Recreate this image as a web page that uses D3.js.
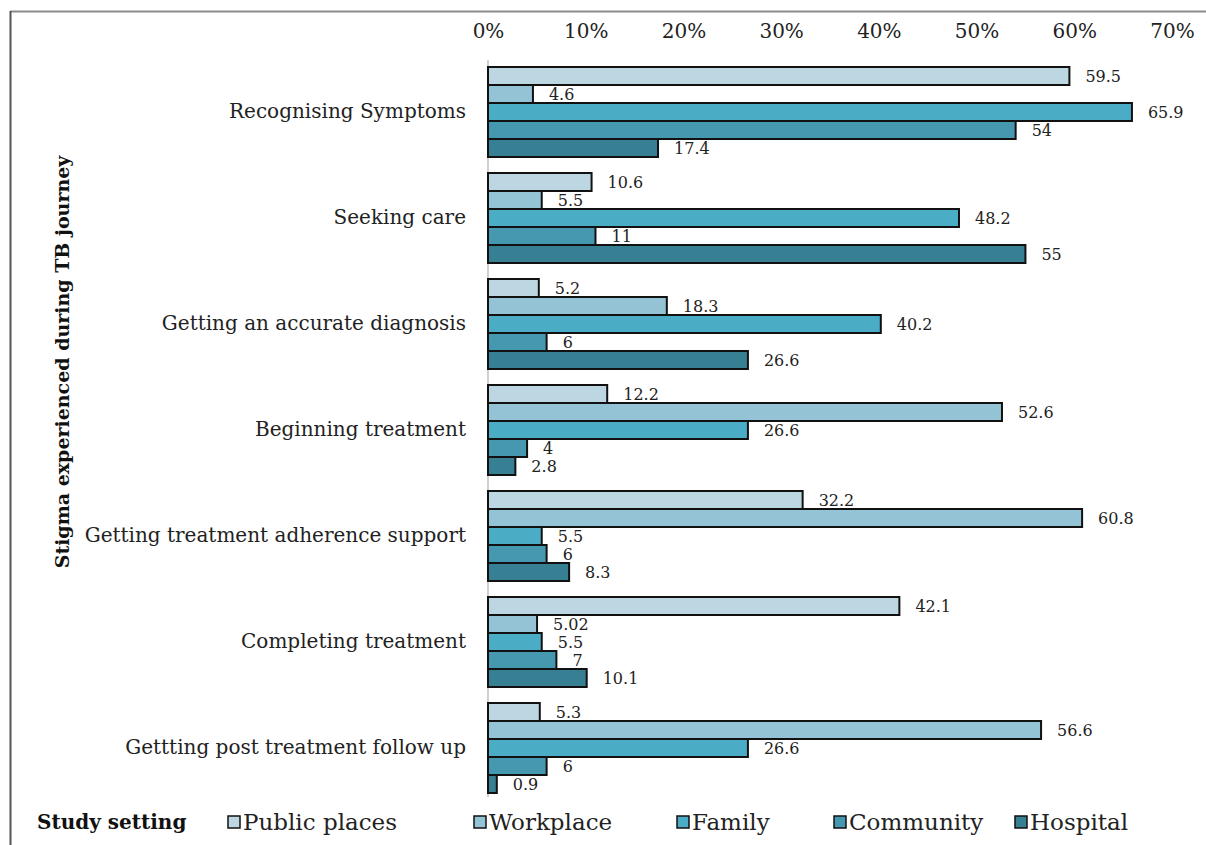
<!DOCTYPE html>
<html>
<head>
<meta charset="utf-8">
<script src="https://cdn.jsdelivr.net/npm/d3@7"></script>
<style>
  html, body { margin: 0; padding: 0; background: #fff; }
  svg { display: block; }
</style>
</head>
<body>
<svg id="chart" width="1206" height="845"></svg>
<script>
// Stages of the TB journey (top to bottom)
const stages = [
  "Recognising Symptoms",
  "Seeking care",
  "Getting an accurate diagnosis",
  "Beginning treatment ",
  "Getting treatment adherence support",
  "Completing treatment",
  "Gettting post treatment follow up"
];

// Study settings (series)
const settings = ["Public places", "Workplace", "Family", "Community", "Hospital"];
const colors = ["#BDD7E2", "#93C3D5", "#4BACC6", "#4598AF", "#377F93"];

// Percent of respondents reporting stigma, per setting, one value per stage
const publicPlaces = [59.5, 10.6, 5.2, 12.2, 32.2, 42.1, 5.3];
const workplace    = [4.6, 5.5, 18.3, 52.6, 60.8, 5.02, 56.6];
const family       = [65.9, 48.2, 40.2, 26.6, 5.5, 5.5, 26.6];
const community    = [54, 11, 6, 4, 6, 7, 6];
const hospital     = [17.4, 55, 26.6, 2.8, 8.3, 10.1, 0.9];

const tickValues = [0, 10, 20, 30, 40, 50, 60, 70];

const seriesValues = [publicPlaces, workplace, family, community, hospital];
const rows = [];
stages.forEach((stage, i) => {
  settings.forEach((s, j) => {
    rows.push({ stage, setting: s, value: seriesValues[j][i], color: colors[j] });
  });
});

const svg = d3.select("#chart");
const serif = "'DejaVu Serif', 'Liberation Serif', serif";

// Frame lines (top and left)
svg.append("line").attr("x1", 10).attr("x2", 1206).attr("y1", 11.5).attr("y2", 11.5)
  .attr("stroke", "#8a8a8a").attr("stroke-width", 2);
svg.append("line").attr("x1", 10.5).attr("x2", 10.5).attr("y1", 11).attr("y2", 845)
  .attr("stroke", "#555").attr("stroke-width", 2);

const x = d3.scaleLinear().domain([0, 70]).range([488, 1172]);
const y = d3.scaleBand().domain(stages).range([59, 801])
  .paddingInner(0.151).paddingOuter(0.0755);
const ySub = d3.scaleBand().domain(settings).range([0, y.bandwidth()]);

// Top percentage axis
const xAxis = d3.axisTop(x).tickValues(tickValues).tickFormat(d => d + "%").tickSize(0).tickPadding(0);
const gx = svg.append("g").attr("transform", "translate(0,38)").call(xAxis);
gx.select(".domain").remove();
gx.selectAll("text").attr("font-family", serif).attr("font-size", 20).attr("fill", "#222");

// Category axis line
svg.append("line").attr("x1", x(0)).attr("x2", x(0)).attr("y1", 60).attr("y2", 797)
  .attr("stroke", "#d0d0d0").attr("stroke-width", 2);

// Category labels
const yAxis = d3.axisLeft(y).tickSize(0).tickPadding(22);
const gy = svg.append("g").attr("transform", `translate(${x(0)},0)`).call(yAxis);
gy.select(".domain").remove();
gy.selectAll("text").attr("font-family", serif).attr("font-size", 20).attr("fill", "#222");

// Bars
const groups = svg.append("g").selectAll("g").data(stages).join("g")
  .attr("transform", d => `translate(0,${y(d)})`);

groups.selectAll("rect")
  .data(d => rows.filter(r => r.stage === d))
  .join("rect")
  .attr("x", x(0))
  .attr("y", d => ySub(d.setting))
  .attr("width", d => x(d.value) - x(0))
  .attr("height", ySub.bandwidth())
  .attr("fill", d => d.color)
  .attr("stroke", "#111")
  .attr("stroke-width", 2);

// Value labels
groups.selectAll("text.val")
  .data(d => rows.filter(r => r.stage === d))
  .join("text")
  .attr("class", "val")
  .attr("x", d => x(d.value) + 16)
  .attr("y", d => ySub(d.setting) + ySub.bandwidth() / 2 + 6)
  .attr("font-family", serif)
  .attr("font-size", 16)
  .attr("fill", "#222")
  .text(d => String(d.value));

// Y-axis title
svg.append("text")
  .attr("transform", "translate(69,362) rotate(-90)")
  .attr("text-anchor", "middle")
  .attr("font-family", serif)
  .attr("font-weight", "bold")
  .attr("font-size", 19)
  .attr("fill", "#111")
  .text("Stigma experienced during TB journey");

// Legend
svg.append("text")
  .attr("x", 37).attr("y", 829)
  .attr("font-family", serif).attr("font-weight", "bold").attr("font-size", 20)
  .attr("fill", "#111")
  .text("Study setting");

const legendX = [228, 474, 677, 834, 1015];
const leg = svg.append("g").selectAll("g").data(settings).join("g")
  .attr("transform", (d, i) => `translate(${legendX[i]},816)`);
leg.append("rect").attr("width", 12).attr("height", 12)
  .attr("fill", (d, i) => colors[i]).attr("stroke", "#111").attr("stroke-width", 1.5);
leg.append("text").attr("x", 15).attr("y", 14)
  .attr("font-family", serif).attr("font-size", 23).attr("fill", "#222")
  .text(d => d);
</script>
</body>
</html>
